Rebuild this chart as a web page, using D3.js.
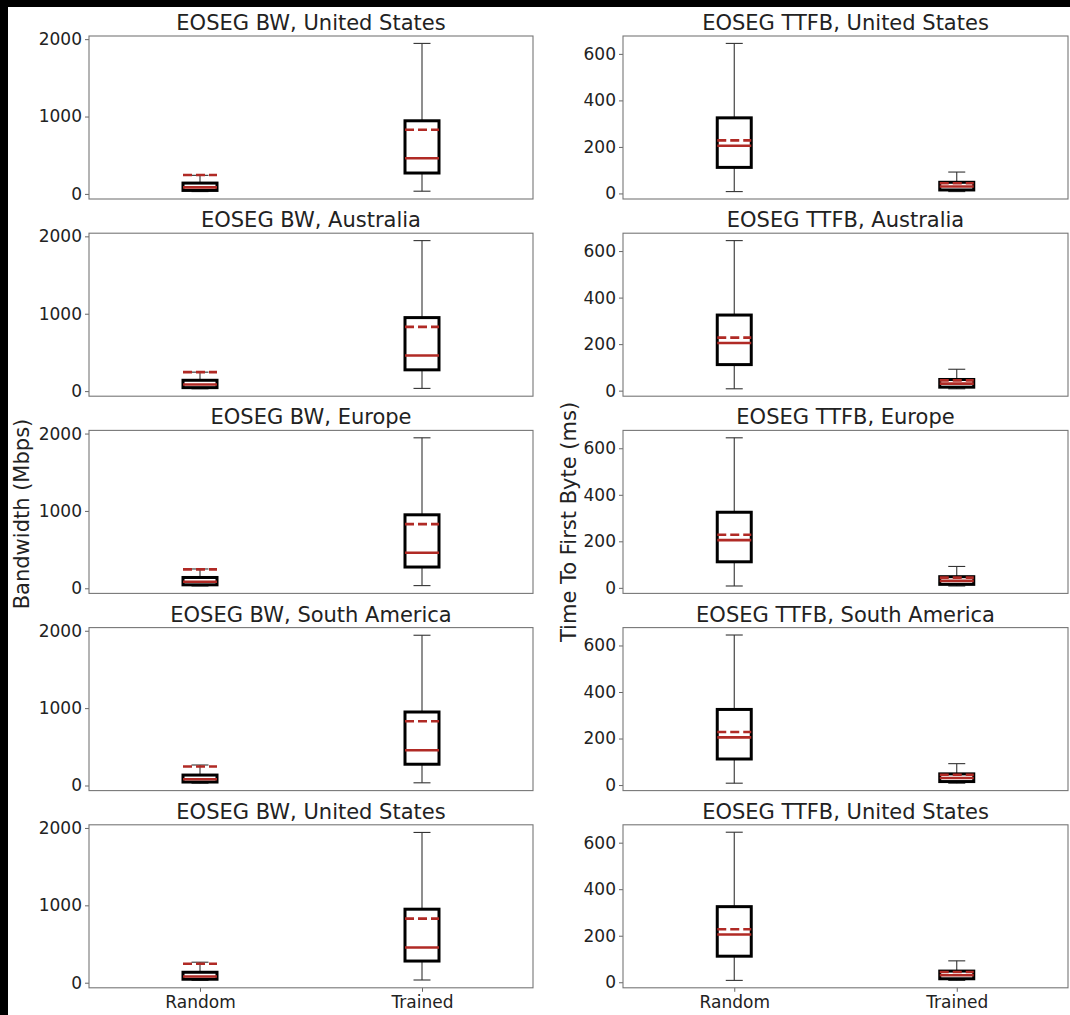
<!DOCTYPE html>
<html>
<head>
<meta charset="utf-8">
<script src="https://cdn.jsdelivr.net/npm/d3@7/dist/d3.min.js"></script>
<style>
  html, body { margin: 0; padding: 0; background: #000; }
  svg { display: block; }
  text { font-family: "DejaVu Sans", sans-serif; fill: #222; }
</style>
</head>
<body>
<script>
// ---------- data ----------
const categories = ["Random", "Trained"];
const bwTitles = ["EOSEG BW, United States", "EOSEG BW, Australia", "EOSEG BW, Europe", "EOSEG BW, South America", "EOSEG BW, United States"];
const ttfbTitles = ["EOSEG TTFB, United States", "EOSEG TTFB, Australia", "EOSEG TTFB, Europe", "EOSEG TTFB, South America", "EOSEG TTFB, United States"];
const bwTicks = [0, 1000, 2000];
const ttfbTicks = [0, 200, 400, 600];
const bwLabel = "Bandwidth (Mbps)";
const ttfbLabel = "Time To First Byte (ms)";
// stats order: whiskerLow, q1, median, q3, whiskerHigh, mean
const bwRandom = [
  [30, 45, 85, 140, 240, 245],
  [30, 45, 85, 140, 245, 245],
  [30, 45, 85, 140, 250, 245],
  [30, 45, 80, 135, 265, 245],
  [30, 45, 80, 135, 265, 245]
];
const bwTrained = [
  [35, 270, 460, 945, 1945, 830],
  [35, 275, 460, 950, 1945, 830],
  [35, 275, 460, 950, 1945, 830],
  [35, 275, 455, 950, 1942, 830],
  [35, 280, 455, 950, 1942, 828]
];
const ttfbRandom = [
  [8, 112, 205, 325, 645, 228],
  [8, 112, 205, 325, 645, 228],
  [8, 112, 205, 325, 645, 228],
  [8, 112, 205, 325, 645, 228],
  [8, 112, 205, 325, 645, 228]
];
const ttfbTrained = [
  [8, 15, 30, 48, 92, 44],
  [8, 15, 30, 48, 92, 44],
  [8, 15, 30, 48, 92, 44],
  [8, 15, 30, 48, 92, 44],
  [8, 15, 30, 48, 92, 44]
];

// ---------- layout ----------
const W = 1070, H = 1015;
const colX = [[89, 533], [623, 1068]];
const rowTop0 = 36, rowPitch = 197.2, panelH = 163;
const red = "#b02a25";
const boxW = 34, capW = 17;

const svg = d3.select("body").append("svg").attr("width", W).attr("height", H);
svg.append("rect").attr("width", W).attr("height", H).attr("fill", "#000");
svg.append("rect").attr("x", 8).attr("y", 7).attr("width", W - 8).attr("height", H - 7).attr("fill", "#fff");

function padDomain(rows) {
  const lo = d3.min(rows.map(r => r[0]));
  const hi = d3.max(rows.map(r => r[4]));
  const pad = (hi - lo) * 0.05;
  return [lo - pad, hi + pad];
}
const bwDomain = padDomain(bwRandom.concat(bwTrained));
const ttfbDomain = padDomain(ttfbRandom.concat(ttfbTrained));

function panel(col, row, title, domain, ticks, statsPair, showX) {
  const [x0, x1] = colX[col];
  const top = rowTop0 + row * rowPitch;
  const bottom = top + panelH;
  const g = svg.append("g");
  const x = d3.scaleLinear().domain([0.5, 2.5]).range([x0, x1]);
  const y = d3.scaleLinear().domain(domain).range([bottom, top]);

  // y axis
  const ya = g.append("g").attr("transform", `translate(${x0},0)`)
    .call(d3.axisLeft(y).tickValues(ticks).tickSize(4).tickPadding(3).tickFormat(d3.format("d")));
  ya.select(".domain").remove();
  ya.selectAll(".tick line").attr("stroke", "#666").attr("stroke-width", 1);
  ya.selectAll(".tick text").attr("font-size", 17).attr("font-family", "DejaVu Sans").attr("fill", "#222");

  if (showX) {
    const xa = g.append("g").attr("transform", `translate(0,${bottom})`)
      .call(d3.axisBottom(x).tickValues([1, 2]).tickSize(4).tickPadding(4).tickFormat((d, i) => categories[i]));
    xa.select(".domain").remove();
    xa.selectAll(".tick line").attr("stroke", "#666");
    xa.selectAll(".tick text").attr("font-size", 17).attr("font-family", "DejaVu Sans").attr("fill", "#222");
  }

  // frame
  g.append("rect").attr("x", x0).attr("y", top).attr("width", x1 - x0).attr("height", panelH)
    .attr("fill", "none").attr("stroke", "#777").attr("stroke-width", 1.1);

  // title
  g.append("text").attr("x", (x0 + x1) / 2).attr("y", top - 6).attr("text-anchor", "middle")
    .attr("font-size", 21).text(title);

  statsPair.forEach((s, i) => {
    const cx = x(i + 1);
    const [lo, q1, med, q3, hi, mean] = s;
    const b = g.append("g");
    // whiskers
    b.append("line").attr("x1", cx).attr("x2", cx).attr("y1", y(q3)).attr("y2", y(hi)).attr("stroke", "#333").attr("stroke-width", 1.1);
    b.append("line").attr("x1", cx).attr("x2", cx).attr("y1", y(q1)).attr("y2", y(lo)).attr("stroke", "#333").attr("stroke-width", 1.1);
    // caps
    [lo, hi].forEach(v => b.append("line").attr("x1", cx - capW / 2).attr("x2", cx + capW / 2)
      .attr("y1", y(v)).attr("y2", y(v)).attr("stroke", "#333").attr("stroke-width", 1.1));
    // box
    b.append("rect").attr("x", cx - boxW / 2).attr("y", y(q3)).attr("width", boxW).attr("height", Math.max(0.5, y(q1) - y(q3)))
      .attr("fill", "none").attr("stroke", "#000").attr("stroke-width", 3);
    // median
    b.append("line").attr("x1", cx - boxW / 2).attr("x2", cx + boxW / 2).attr("y1", y(med)).attr("y2", y(med))
      .attr("stroke", red).attr("stroke-width", 2.6);
    // mean
    b.append("line").attr("x1", cx - boxW / 2).attr("x2", cx + boxW / 2).attr("y1", y(mean)).attr("y2", y(mean))
      .attr("stroke", red).attr("stroke-width", 2.6).attr("stroke-dasharray", "9,4");
  });
}

for (let r = 0; r < 5; r++) {
  panel(0, r, bwTitles[r], bwDomain, bwTicks, [bwRandom[r], bwTrained[r]], r === 4);
  panel(1, r, ttfbTitles[r], ttfbDomain, ttfbTicks, [ttfbRandom[r], ttfbTrained[r]], r === 4);
}

// y labels
svg.append("text").attr("transform", "translate(29,514) rotate(-90)").attr("text-anchor", "middle")
  .attr("font-size", 21).text(bwLabel);
svg.append("text").attr("transform", "translate(576,522) rotate(-90)").attr("text-anchor", "middle")
  .attr("font-size", 21).text(ttfbLabel);
</script>
</body>
</html>
